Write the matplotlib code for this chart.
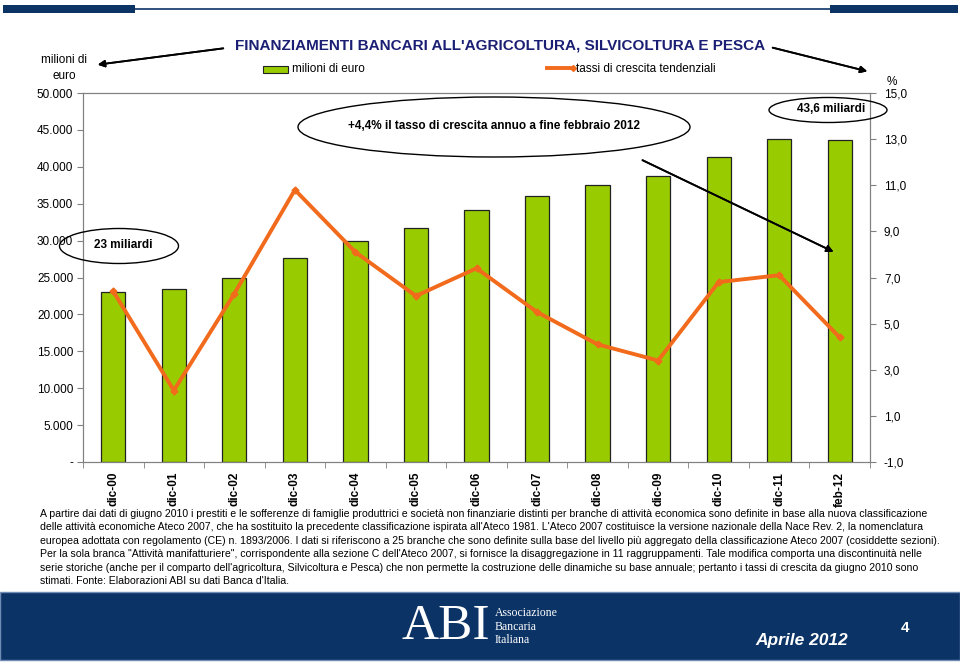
import matplotlib
matplotlib.use("Agg")
import matplotlib.pyplot as plt
from matplotlib.patches import Rectangle, Ellipse
from matplotlib.lines import Line2D
import numpy as np

plt.rcParams['font.family'] = ['Liberation Sans', 'DejaVu Sans']

# data
categories = ['dic-00', 'dic-01', 'dic-02', 'dic-03', 'dic-04', 'dic-05', 'dic-06',
              'dic-07', 'dic-08', 'dic-09', 'dic-10', 'dic-11', 'feb-12']
stock = [23000, 23500, 25000, 27700, 30000, 31700, 34100,
         36000, 37500, 38800, 41300, 43700, 43600]
growth = [6.4, 2.1, 6.3, 10.8, 8.1, 6.2, 7.4, 5.5, 4.1, 3.4, 6.8, 7.1, 4.4]

left_ticks = list(range(0, 50001, 5000))
left_labels = ['-', '5.000', '10.000', '15.000', '20.000', '25.000',
               '30.000', '35.000', '40.000', '45.000', '50.000']
right_ticks = list(range(-1, 16, 2))
right_labels = ['-1,0', '1,0', '3,0', '5,0', '7,0', '9,0', '11,0', '13,0', '15,0']

note_lines = [
    "A partire dai dati di giugno 2010 i prestiti e le sofferenze di famiglie produttrici e società non finanziarie distinti per branche di attività economica sono definite in base alla nuova classificazione",
    "delle attività economiche Ateco 2007, che ha sostituito la precedente classificazione ispirata all'Ateco 1981. L'Ateco 2007 costituisce la versione nazionale della Nace Rev. 2, la nomenclatura",
    "europea adottata con regolamento (CE) n. 1893/2006. I dati si riferiscono a 25 branche che sono definite sulla base del livello più aggregato della classificazione Ateco 2007 (cosiddette sezioni).",
    "Per la sola branca \"Attività manifatturiere\", corrispondente alla sezione C dell'Ateco 2007, si fornisce la disaggregazione in 11 raggruppamenti. Tale modifica comporta una discontinuità nelle",
    "serie storiche (anche per il comparto dell'agricoltura, Silvicoltura e Pesca) che non permette la costruzione delle dinamiche su base annuale; pertanto i tassi di crescita da giugno 2010 sono",
    "stimati. Fonte: Elaborazioni ABI su dati Banca d'Italia.",
]

W, H = 960, 666
GREEN = '#99CC00'
ORANGE = '#F26A1B'
NAVY = '#0C3366'


def fx(x):
    return x / W


def fy(y):
    return 1 - y / H


fig = plt.figure(figsize=(W / 100, H / 100), dpi=100)

ax = fig.add_axes([fx(83), fy(462), (870 - 83) / W, (462 - 93) / H])
x = np.arange(len(categories))
ax.bar(x, stock, width=0.4, color=GREEN, edgecolor='#222222', linewidth=0.9, zorder=2)
ax.set_xlim(-0.5, len(categories) - 0.5)
ax.set_ylim(0, 50000)
ax.set_yticks(left_ticks)
ax.set_yticklabels(left_labels, fontsize=8.5)
ax.set_xticks(x)
ax.set_xticklabels(categories, rotation=90, fontsize=8.5, fontweight='bold')
ax.set_xticks(np.arange(-0.5, len(categories), 1), minor=True)
ax.tick_params(axis='x', which='major', length=0, pad=7)
ax.tick_params(axis='x', which='minor', length=4, color='#808080')
ax.tick_params(axis='y', length=4, color='#808080', pad=3)
for s in ax.spines.values():
    s.set_color('#808080')

ax2 = ax.twinx()
ax2.plot(x, growth, color=ORANGE, linewidth=2.8, marker='D', markersize=3.5, zorder=3)
ax2.set_ylim(-1, 15)
ax2.set_yticks(right_ticks)
ax2.set_yticklabels(right_labels, fontsize=8.5)
ax2.tick_params(axis='y', length=4, color='#808080', pad=6)
for s in ax2.spines.values():
    s.set_color('#808080')

# header bars
fig.add_artist(Rectangle((fx(3), fy(13)), (135 - 3) / W, 8 / H, transform=fig.transFigure,
                         color=NAVY, lw=0))
fig.add_artist(Rectangle((fx(830), fy(13)), (958 - 830) / W, 8 / H, transform=fig.transFigure,
                         color=NAVY, lw=0))
fig.add_artist(Line2D([fx(135), fx(830)], [fy(9), fy(9)], transform=fig.transFigure,
                      color=NAVY, lw=1.2))

# title and axis captions
fig.text(fx(500), fy(45), "FINANZIAMENTI BANCARI ALL'AGRICOLTURA, SILVICOLTURA E PESCA",
         ha='center', va='center', fontsize=11, fontweight='bold', color='#1B1F74')
fig.text(fx(64), fy(68), "milioni di\neuro", ha='center', va='center', fontsize=8.5,
         linespacing=1.5)
fig.text(fx(892), fy(82), "%", ha='center', va='center', fontsize=8.5)

arrow = dict(arrowstyle='-|>', color='black', lw=1.3, mutation_scale=10)
fig.add_artist(plt.annotate('', xy=(fx(95), fy(65)), xytext=(fx(226), fy(48)),
                            xycoords='figure fraction', arrowprops=arrow))
fig.add_artist(plt.annotate('', xy=(fx(870), fy(72)), xytext=(fx(770), fy(47)),
                            xycoords='figure fraction', arrowprops=arrow))

# legend
fig.add_artist(Rectangle((fx(263), fy(73)), 25 / W, 7 / H, transform=fig.transFigure,
                         facecolor=GREEN, edgecolor='#222222', lw=0.8))
fig.text(fx(292), fy(69), "milioni di euro", ha='left', va='center', fontsize=8.5)
fig.add_artist(Line2D([fx(547), fx(573)], [fy(68), fy(68)], transform=fig.transFigure,
                      color=ORANGE, lw=2.8, marker='D', markersize=3, markevery=[1]))
fig.text(fx(576), fy(69), "tassi di crescita tendenziali", ha='left', va='center', fontsize=8.5)

# callouts
fig.add_artist(Ellipse((fx(494), fy(127)), 392 / W, 60 / H, transform=fig.transFigure,
                       fill=False, edgecolor='black', lw=1))
fig.text(fx(494), fy(126), "+4,4% il tasso di crescita annuo a fine febbraio 2012",
         ha='center', va='center', fontsize=8.5, fontweight='bold')
fig.add_artist(Ellipse((fx(828), fy(110)), 118 / W, 25 / H, transform=fig.transFigure,
                       fill=False, edgecolor='black', lw=1))
fig.text(fx(831), fy(109), "43,6 miliardi", ha='center', va='center', fontsize=8.5,
         fontweight='bold')
fig.add_artist(Ellipse((fx(119), fy(246)), 119 / W, 35 / H, transform=fig.transFigure,
                       fill=False, edgecolor='black', lw=1))
fig.text(fx(123), fy(245), "23 miliardi", ha='center', va='center', fontsize=8.5,
         fontweight='bold')
fig.add_artist(plt.annotate('', xy=(fx(836), fy(253)), xytext=(fx(640), fy(159)),
                            xycoords='figure fraction', arrowprops=arrow))

# note text: shrink until the longest line fits the original width
renderer = fig.canvas.get_renderer()
note_size = 8.0
while note_size > 5:
    probe = fig.text(0, 0, note_lines[2], fontsize=note_size)
    wpx = probe.get_window_extent(renderer).width
    probe.remove()
    if wpx <= 945 - 40:
        break
    note_size -= 0.05
for i, line in enumerate(note_lines):
    fig.text(fx(40), fy(514 + 13.4 * i), line, ha='left', va='center', fontsize=note_size)

# footer band
fig.add_artist(Rectangle((0, fy(660)), 1, 68 / H, transform=fig.transFigure,
                         facecolor=NAVY, edgecolor='#6F8CB5', lw=1))
fig.text(fx(446), fy(627), "ABI", ha='center', va='center', fontsize=37,
         family='Liberation Serif', color='white')
for i, word in enumerate(["Associazione", "Bancaria", "Italiana"]):
    fig.text(fx(495), fy(613 + 13.5 * i), word, ha='left', va='center', fontsize=8.5,
             family='Liberation Serif', color='white')
fig.text(fx(802), fy(640), "Aprile 2012", ha='center', va='center', fontsize=12.5,
         fontweight='bold', style='italic', color='white')
fig.text(fx(905), fy(628), "4", ha='center', va='center', fontsize=11,
         fontweight='bold', color='white')

fig.savefig("out.png", dpi=100)
